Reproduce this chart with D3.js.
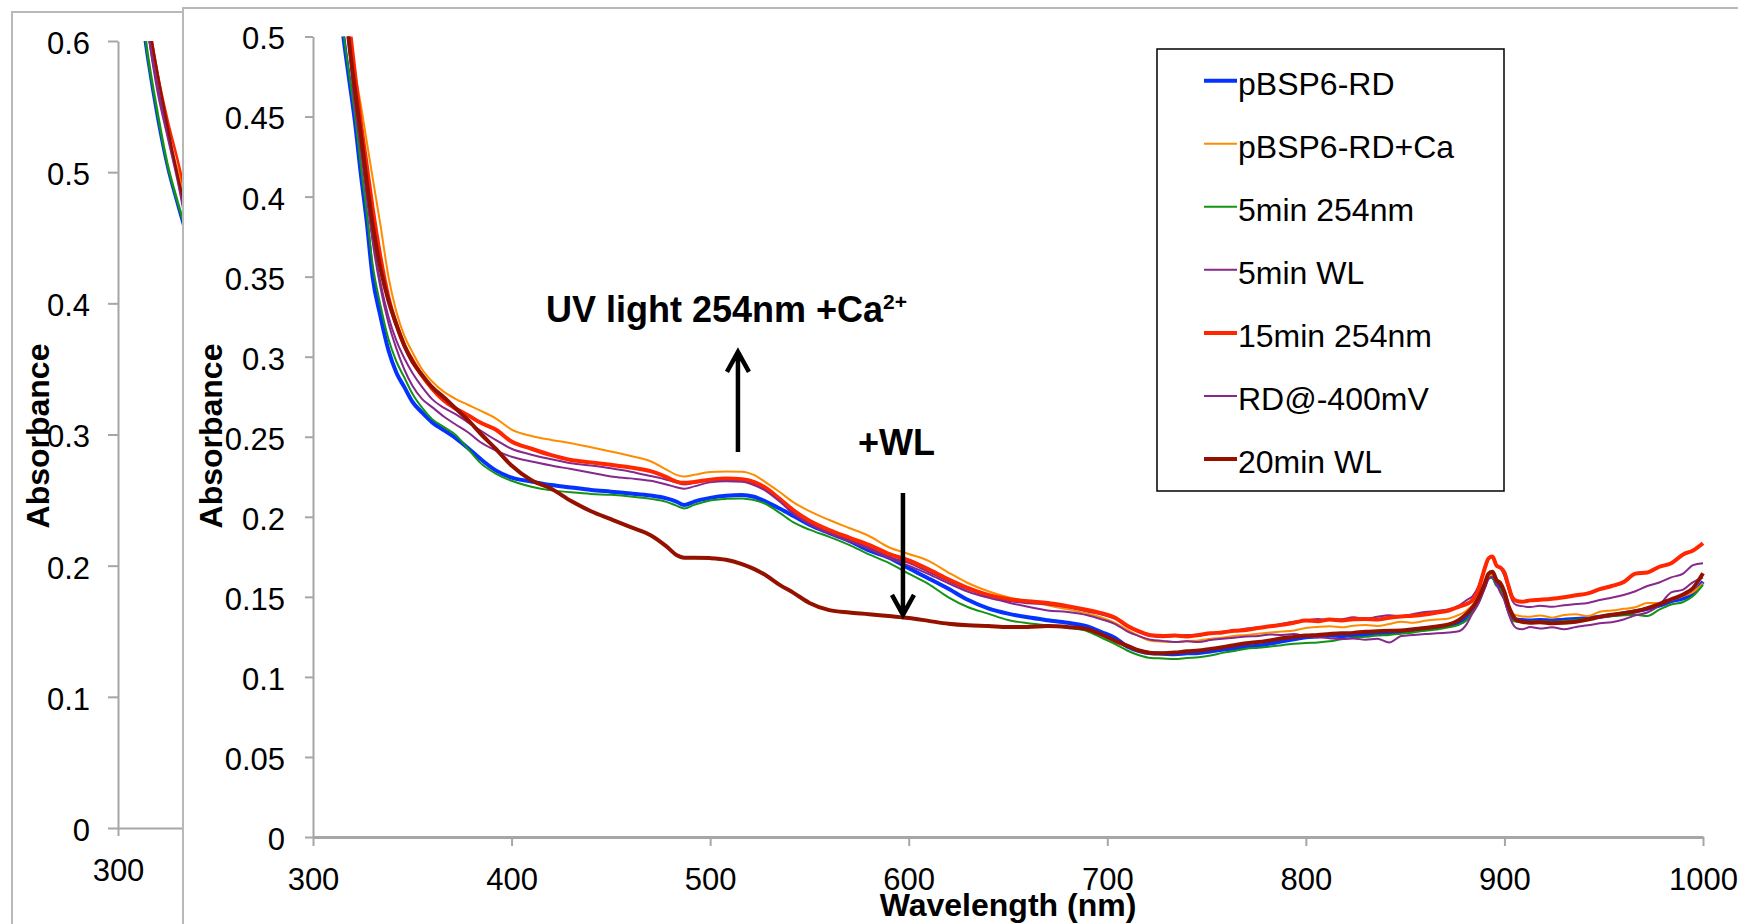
<!DOCTYPE html>
<html>
<head>
<meta charset="utf-8">
<script src="https://cdn.jsdelivr.net/npm/d3@7"></script>
<style>
  html, body { margin: 0; padding: 0; background: #fff; }
  svg { display: block; font-family: "Liberation Sans", Arial, sans-serif; }
</style>
</head>
<body>
<svg id="chart" width="1738" height="924"></svg>
<script>
// wavelength grid (nm) shared by every spectrum
const wavelengths = [
  306, 309, 312, 315, 318, 321, 324, 327, 330, 334,
  338, 342, 346, 350, 355, 360, 366, 372, 378, 384,
  392, 400, 410, 420, 430, 440, 450, 460, 470, 478,
  483, 487, 492, 500, 508, 516, 522, 528, 535, 542,
  550, 560, 570, 580, 590, 600, 610, 620, 630, 640,
  650, 660, 670, 680, 690, 697, 704, 710, 716, 722,
  728, 734, 740, 746, 752, 758, 764, 770, 776, 782,
  788, 794, 800, 806, 812, 818, 824, 830, 836, 842,
  848, 854, 860, 866, 872, 877, 881, 884, 887, 890,
  892, 894, 896, 898, 900, 902, 904, 906, 909, 913,
  918, 924, 930, 936, 942, 948, 954, 960, 966, 972,
  978, 984, 990, 995, 1000
];

// absorbance values
const blueRD = [
  0.64, 0.585, 0.54, 0.503, 0.475, 0.448, 0.415, 0.385, 0.35, 0.325,
  0.304, 0.29, 0.281, 0.272, 0.265, 0.259, 0.254, 0.249, 0.243, 0.2365,
  0.229, 0.2245, 0.222, 0.2198, 0.2183, 0.2168, 0.2157, 0.2146, 0.2133, 0.2115,
  0.2095, 0.2073, 0.2095, 0.2118, 0.2132, 0.2136, 0.2125, 0.2095, 0.2052, 0.2005,
  0.195, 0.1898, 0.185, 0.179, 0.1745, 0.1678, 0.1615, 0.155, 0.148, 0.1428,
  0.1395, 0.1372, 0.1354, 0.1338, 0.1315, 0.128, 0.1243, 0.119, 0.1162, 0.1148,
  0.1145, 0.1142, 0.1147, 0.115, 0.1158, 0.117, 0.1178, 0.1189, 0.1195, 0.1208,
  0.1222, 0.1235, 0.1248, 0.1252, 0.1258, 0.1255, 0.1262, 0.1262, 0.127, 0.1275,
  0.1282, 0.129, 0.1298, 0.131, 0.1322, 0.1335, 0.1365, 0.141, 0.148, 0.157,
  0.1626, 0.163, 0.158, 0.1555, 0.15, 0.142, 0.1366, 0.1358, 0.1355, 0.1352,
  0.1356, 0.1352, 0.1357, 0.1362, 0.1368, 0.1376, 0.1385, 0.1397, 0.141, 0.1425,
  0.1445, 0.1472, 0.149, 0.152, 0.1595
];
const orangeCa = [
  0.67, 0.61, 0.565, 0.53, 0.502, 0.478, 0.458, 0.435, 0.412, 0.382,
  0.35, 0.328, 0.313, 0.303, 0.292, 0.2845, 0.278, 0.2735, 0.27, 0.2665,
  0.2615, 0.2545, 0.2505, 0.248, 0.246, 0.2435, 0.2408, 0.238, 0.2347, 0.2295,
  0.2262, 0.2252, 0.2262, 0.228, 0.2283, 0.2282, 0.2262, 0.2215, 0.2155, 0.209,
  0.2035, 0.198, 0.193, 0.188, 0.181, 0.1768, 0.1725, 0.1652, 0.1585, 0.1535,
  0.1498, 0.1472, 0.1447, 0.1422, 0.1395, 0.1372, 0.1338, 0.1295, 0.1255, 0.1225,
  0.122, 0.1218, 0.1225, 0.1228, 0.1238, 0.1245, 0.1256, 0.1262, 0.127, 0.1277,
  0.1283, 0.129, 0.1305, 0.1312, 0.1316, 0.131, 0.132, 0.1324, 0.1318, 0.133,
  0.1345, 0.1338, 0.135, 0.1358, 0.1365, 0.1387, 0.1415, 0.145, 0.15, 0.158,
  0.163, 0.1636, 0.161, 0.1595, 0.154, 0.146, 0.1392, 0.1385, 0.1378, 0.1376,
  0.1384, 0.137, 0.1387, 0.1392, 0.138, 0.1407, 0.1415, 0.1425, 0.1435, 0.1462,
  0.146, 0.148, 0.1505, 0.153, 0.1585
];
const green5 = [
  0.65, 0.59, 0.545, 0.506, 0.478, 0.452, 0.42, 0.39, 0.358, 0.332,
  0.311, 0.297, 0.287, 0.277, 0.268, 0.261, 0.256, 0.251, 0.2425, 0.234,
  0.227, 0.2225, 0.2188, 0.2165, 0.2153, 0.2143, 0.2137, 0.2127, 0.2112, 0.2093,
  0.207, 0.2052, 0.2075, 0.2102, 0.2112, 0.2115, 0.2105, 0.208, 0.2025, 0.1965,
  0.192, 0.1875, 0.1825, 0.1765, 0.1712, 0.1645, 0.158, 0.1497, 0.1435, 0.1395,
  0.1355, 0.1335, 0.1322, 0.1306, 0.1285, 0.1245, 0.1205, 0.1165, 0.1135, 0.1118,
  0.1115, 0.1112, 0.1118, 0.1122, 0.1133, 0.115, 0.1162, 0.1176, 0.1182, 0.119,
  0.1198, 0.1207, 0.1212, 0.1215, 0.1222, 0.1235, 0.1245, 0.125, 0.1258, 0.1262,
  0.127, 0.1278, 0.1288, 0.1296, 0.131, 0.1325, 0.1355, 0.1405, 0.147, 0.156,
  0.162, 0.1615, 0.157, 0.1545, 0.149, 0.141, 0.1352, 0.1345, 0.1342, 0.1345,
  0.1348, 0.1345, 0.135, 0.1356, 0.1365, 0.1374, 0.138, 0.1385, 0.1388, 0.138,
  0.142, 0.1452, 0.1468, 0.1505, 0.1575
];
const purple5WL = [
  0.67, 0.61, 0.565, 0.53, 0.497, 0.46, 0.433, 0.405, 0.375, 0.346,
  0.325, 0.31, 0.299, 0.29, 0.281, 0.2735, 0.268, 0.264, 0.259, 0.2542,
  0.248, 0.2425, 0.2388, 0.236, 0.2335, 0.232, 0.2303, 0.2282, 0.2255, 0.2232,
  0.2215, 0.2202, 0.2212, 0.2228, 0.2232, 0.2225, 0.2205, 0.2172, 0.2105, 0.2028,
  0.1965, 0.1907, 0.1858, 0.181, 0.175, 0.1712, 0.1655, 0.1598, 0.1545, 0.1505,
  0.1475, 0.146, 0.1452, 0.1435, 0.1408, 0.139, 0.1362, 0.1315, 0.1278, 0.1255,
  0.1248, 0.1255, 0.1262, 0.1258, 0.127, 0.1282, 0.1288, 0.1302, 0.131, 0.1318,
  0.1332, 0.1345, 0.1352, 0.1362, 0.1355, 0.136, 0.1372, 0.1362, 0.1375, 0.1385,
  0.1378, 0.1392, 0.1405, 0.1412, 0.1422, 0.1445, 0.148, 0.1505, 0.157, 0.168,
  0.174, 0.175, 0.1695, 0.168, 0.163, 0.155, 0.1475, 0.1449, 0.1442, 0.1436,
  0.1445, 0.1438, 0.1448, 0.1455, 0.1462, 0.148, 0.1495, 0.1512, 0.1535, 0.1568,
  0.159, 0.1622, 0.1645, 0.1698, 0.171
];
const red15 = [
  0.68, 0.62, 0.575, 0.54, 0.51, 0.478, 0.447, 0.42, 0.393, 0.362,
  0.337, 0.32, 0.307, 0.298, 0.288, 0.28, 0.2725, 0.2675, 0.2635, 0.259,
  0.2545, 0.247, 0.2425, 0.2385, 0.2355, 0.234, 0.2325, 0.2308, 0.2285, 0.2248,
  0.222, 0.2212, 0.2218, 0.2232, 0.224, 0.2235, 0.2218, 0.218, 0.2112, 0.204,
  0.1975, 0.1917, 0.187, 0.1825, 0.1768, 0.1728, 0.1672, 0.161, 0.1555, 0.1512,
  0.1487, 0.1472, 0.1462, 0.1442, 0.1418, 0.1398, 0.137, 0.132, 0.1285, 0.126,
  0.1255, 0.1258, 0.1253, 0.1262, 0.1272, 0.1278, 0.1288, 0.1293, 0.1305, 0.1316,
  0.1325, 0.1338, 0.1352, 0.1348, 0.1358, 0.1352, 0.136, 0.1362, 0.1358, 0.137,
  0.1378, 0.1382, 0.139, 0.1402, 0.1415, 0.1438, 0.1455, 0.148, 0.155, 0.1675,
  0.174, 0.1752, 0.1695, 0.1682, 0.1652, 0.157, 0.1495, 0.1475, 0.147, 0.1478,
  0.1482, 0.1488, 0.1498, 0.151, 0.1522, 0.1548, 0.1568, 0.1592, 0.1645, 0.1652,
  0.1688, 0.171, 0.1765, 0.179, 0.1835
];
const purpleRD = [
  0.67, 0.61, 0.562, 0.528, 0.495, 0.458, 0.43, 0.4, 0.372, 0.343,
  0.321, 0.305, 0.292, 0.282, 0.2735, 0.2685, 0.2625, 0.2575, 0.2528, 0.2469,
  0.2415, 0.2375, 0.2345, 0.232, 0.2298, 0.2275, 0.2252, 0.224, 0.2225, 0.2202,
  0.2185, 0.2175, 0.219, 0.2215, 0.2222, 0.2219, 0.2198, 0.2162, 0.2095, 0.2018,
  0.1955, 0.1896, 0.1848, 0.1798, 0.1742, 0.1695, 0.1642, 0.1585, 0.1532, 0.1495,
  0.1465, 0.1438, 0.1415, 0.1405, 0.1385, 0.136, 0.133, 0.1285, 0.1255, 0.1232,
  0.1225, 0.1218, 0.1222, 0.1218, 0.123, 0.1238, 0.1245, 0.1252, 0.1255, 0.1265,
  0.1262, 0.1268, 0.1255, 0.1248, 0.1242, 0.1236, 0.124, 0.1232, 0.1238, 0.1215,
  0.1255, 0.1262, 0.1268, 0.1272, 0.1278, 0.1285, 0.133, 0.14, 0.146, 0.155,
  0.161, 0.1626, 0.158, 0.1525, 0.148, 0.14, 0.1335, 0.1305, 0.1298, 0.1312,
  0.1302, 0.131, 0.1298, 0.1312, 0.1322, 0.1335, 0.1342, 0.1358, 0.1385, 0.1402,
  0.1448, 0.1528, 0.1545, 0.1592, 0.162
];
const darkred20 = [
  0.68, 0.62, 0.575, 0.535, 0.498, 0.468, 0.44, 0.41, 0.383, 0.355,
  0.335, 0.32, 0.307, 0.297, 0.2885, 0.281, 0.2745, 0.2675, 0.2605, 0.2525,
  0.2425, 0.232, 0.2228, 0.2175, 0.2098, 0.2035, 0.1985, 0.1935, 0.1885, 0.1815,
  0.1762, 0.1745, 0.1745, 0.1742, 0.1732, 0.1705, 0.1675, 0.1635, 0.1575, 0.1525,
  0.1462, 0.1417, 0.1402, 0.1392, 0.138, 0.1368, 0.135, 0.1332, 0.1322, 0.1318,
  0.1312, 0.1312, 0.1318, 0.1312, 0.1298, 0.1265, 0.1225, 0.1195, 0.1165, 0.115,
  0.1148, 0.1152, 0.116, 0.1165, 0.1175, 0.1185, 0.1198, 0.121, 0.1218, 0.1228,
  0.1242, 0.125, 0.1258, 0.1262, 0.1268, 0.1272, 0.1275, 0.1282, 0.1285, 0.1288,
  0.129, 0.1298, 0.1305, 0.1315, 0.1328, 0.1355, 0.1395, 0.1435, 0.1495, 0.158,
  0.1645, 0.1657, 0.1605, 0.1584, 0.153, 0.1445, 0.139, 0.1355, 0.1345, 0.1339,
  0.1342, 0.1335, 0.1338, 0.1345, 0.1358, 0.1375, 0.1388, 0.1398, 0.141, 0.143,
  0.1455, 0.1485, 0.1515, 0.1555, 0.1647
];

const seriesNames = ["pBSP6-RD", "pBSP6-RD+Ca", "5min 254nm", "5min WL", "15min 254nm", "RD@-400mV", "20min WL"];
const seriesValues = [blueRD, orangeCa, green5, purple5WL, red15, purpleRD, darkred20];
const seriesColors = ["#0433ff", "#ff8c00", "#149414", "#86288c", "#ff2600", "#86288c", "#941100"];
const seriesWidths = [4, 2, 2, 2, 4, 2, 4];

// tick labels
const xTicksFront = [300, 400, 500, 600, 700, 800, 900, 1000];
const yTicksFront = [0, 0.05, 0.1, 0.15, 0.2, 0.25, 0.3, 0.35, 0.4, 0.45, 0.5];
const xTicksBack = [300];
const yTicksBack = [0, 0.1, 0.2, 0.3, 0.4, 0.5, 0.6];

const series = seriesNames.map((name, i) => ({
  name: name,
  color: seriesColors[i],
  width: seriesWidths[i],
  points: wavelengths.map((w, j) => ({ wl: w, a: seriesValues[i][j] }))
}));

const svg = d3.select("#chart");
const FONT = "\"Liberation Sans\", Arial, sans-serif";
const axisGrey = "#a6a6a6";

svg.append("rect").attr("width", 1738).attr("height", 924).attr("fill", "#fff");

// ---------- chart behind (partly hidden) ----------
const xBack = d3.scaleLinear().domain([300, 1000]).range([118, 118 + 700 * 3.3]);
const yBack = d3.scaleLinear().domain([0, 0.6]).range([828, 41]);

const back = svg.append("g");
back.append("rect")
  .attr("x", 12).attr("y", 12).attr("width", 1800).attr("height", 1000)
  .attr("fill", "#fff").attr("stroke", "#b8b8b8").attr("stroke-width", 2);

back.append("clipPath").attr("id", "clipBack")
  .append("rect").attr("x", 118).attr("y", yBack(0.6)).attr("width", 70).attr("height", yBack(0) - yBack(0.6));

const lineBack = d3.line().curve(d3.curveMonotoneX).x(d => xBack(d.wl)).y(d => yBack(d.a));
back.append("g").attr("clip-path", "url(#clipBack)")
  .selectAll("path").data(series).join("path")
  .attr("d", d => lineBack(d.points))
  .attr("fill", "none")
  .attr("stroke", d => d.color)
  .attr("stroke-width", 2.5);

const yAxisBack = back.append("g").attr("transform", "translate(118,0)")
  .call(d3.axisLeft(yBack).tickValues(yTicksBack).tickFormat(d => String(d))
    .tickSize(10).tickSizeOuter(0).tickPadding(18));
const xAxisBack = back.append("g").attr("transform", "translate(0,828)")
  .call(d3.axisBottom(xBack).tickValues(xTicksBack).tickFormat(d => String(d))
    .tickSize(8).tickSizeOuter(0).tickPadding(23));

back.append("text")
  .attr("transform", "translate(49,436) rotate(-90)")
  .attr("text-anchor", "middle")
  .attr("font-size", 32).attr("font-weight", "bold")
  .text("Absorbance");

// ---------- front chart ----------
const x = d3.scaleLinear().domain([300, 1000]).range([313, 1703]);
const y = d3.scaleLinear().domain([0, 0.5]).range([837, 36.5]);

const front = svg.append("g");
front.append("rect")
  .attr("x", 183).attr("y", 8).attr("width", 1700).attr("height", 1000)
  .attr("fill", "#fff").attr("stroke", "#b8b8b8").attr("stroke-width", 2);

front.append("clipPath").attr("id", "clipFront")
  .append("rect").attr("x", x(300)).attr("y", y(0.5)).attr("width", x(1000) - x(300) + 4).attr("height", y(0) - y(0.5));

const yAxis = front.append("g").attr("transform", `translate(${x(300)},0)`)
  .call(d3.axisLeft(y).tickValues(yTicksFront).tickFormat(d => String(d))
    .tickSize(8).tickSizeOuter(0).tickPadding(20));
const xAxis = front.append("g").attr("transform", `translate(0,${y(0)})`)
  .call(d3.axisBottom(x).tickValues(xTicksFront).tickFormat(d => String(d))
    .tickSize(9).tickSizeOuter(0).tickPadding(22));

[yAxisBack, xAxisBack, yAxis, xAxis].forEach(g => {
  g.select(".domain").attr("stroke", axisGrey).attr("stroke-width", 2);
  g.selectAll(".tick line").attr("stroke", axisGrey).attr("stroke-width", 2);
  g.selectAll(".tick text").attr("font-family", FONT).attr("font-size", 31).attr("fill", "#000");
});
xAxis.select(".domain").attr("stroke-width", 3);
yAxis.selectAll(".tick text").attr("dy", "0.4em");
yAxisBack.selectAll(".tick text").attr("dy", "0.4em");

// monotone curve keeps each read point but avoids kinks on the steep UV edge
const line = d3.line().curve(d3.curveMonotoneX).x(d => x(d.wl)).y(d => y(d.a));
front.append("g").attr("clip-path", "url(#clipFront)")
  .selectAll("path").data(series).join("path")
  .attr("d", d => line(d.points))
  .attr("fill", "none")
  .attr("stroke", d => d.color)
  .attr("stroke-width", d => d.width)
  .attr("stroke-linejoin", "round");

front.append("text")
  .attr("transform", "translate(222,436) rotate(-90)")
  .attr("text-anchor", "middle")
  .attr("font-size", 32).attr("font-weight", "bold")
  .text("Absorbance");

front.append("text")
  .attr("x", (x(300) + x(1000)) / 2).attr("y", 916)
  .attr("text-anchor", "middle")
  .attr("font-size", 32).attr("font-weight", "bold")
  .text("Wavelength (nm)");

// annotations
const uv = front.append("text")
  .attr("x", x(417.3)).attr("y", y(0.3217))
  .attr("font-size", 36).attr("font-weight", "bold");
uv.append("tspan").text("UV light 254nm +Ca");
uv.append("tspan").attr("font-size", 21).attr("dy", -13).text("2+");

front.append("text")
  .attr("x", x(574.5)).attr("y", y(0.2386))
  .attr("font-size", 36).attr("font-weight", "bold")
  .text("+WL");

function arrow(wl, from, to) {
  const ax = x(wl), y0 = y(from), y1 = y(to);
  const dir = y1 < y0 ? 1 : -1;
  front.append("path")
    .attr("d", `M${ax},${y0}L${ax},${y1}M${ax - 11},${y1 + dir * 20}L${ax},${y1}L${ax + 11},${y1 + dir * 20}`)
    .attr("fill", "none").attr("stroke", "#000").attr("stroke-width", 4.5)
    .attr("stroke-linejoin", "miter");
}
arrow(514, 0.2405, 0.303);
arrow(597.1, 0.2149, 0.1387);

// legend
const legend = svg.append("g");
legend.append("rect")
  .attr("x", 1157).attr("y", 49).attr("width", 347).attr("height", 442)
  .attr("fill", "#fff").attr("stroke", "#000").attr("stroke-width", 1.5);
const rows = legend.selectAll("g.row").data(series).join("g")
  .attr("class", "row")
  .attr("transform", (d, i) => `translate(0,${80.7 + i * 63.05})`);
rows.append("line")
  .attr("x1", 1204).attr("x2", 1237)
  .attr("stroke", d => d.color).attr("stroke-width", d => d.width);
rows.append("text")
  .attr("x", 1238).attr("y", 14)
  .attr("font-size", 32)
  .text(d => d.name);
</script>
</body>
</html>
